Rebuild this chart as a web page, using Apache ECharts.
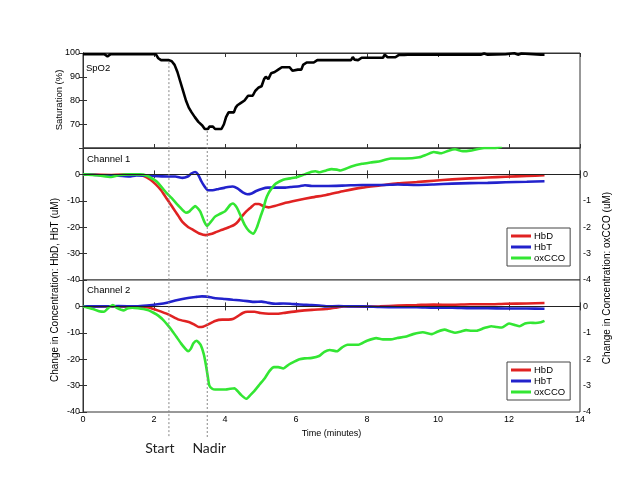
<!DOCTYPE html>
<html>
<head>
<meta charset="utf-8">
<script src="https://cdn.jsdelivr.net/npm/echarts@6/dist/echarts.min.js"></script>
<style>
html, body { margin: 0; background: #fff; }
#main { width: 640px; height: 480px; }
</style>
</head>
<body>
<div id="main"></div>
<script>
// time in minutes
var spo2 = [[0,99.5],[0.6,99.5],[0.69,98.6],[0.78,99.5],[2.05,99.5],[2.12,97.8],[2.2,97],[2.42,97],[2.5,96.5],[2.58,95],[2.66,92],[2.74,88],[2.8,85],[2.9,80],[2.98,77],[3.06,75],[3.15,73],[3.25,71],[3.36,69.5],[3.43,68],[3.52,68],[3.56,69],[3.66,69],[3.72,68],[3.9,68],[3.97,70],[4.03,73],[4.1,75],[4.25,75],[4.3,77],[4.35,78],[4.45,79],[4.55,80],[4.65,82],[4.78,82],[4.85,84],[4.95,85.5],[5.03,86],[5.1,89],[5.15,90],[5.22,89],[5.3,91.5],[5.4,92],[5.5,93],[5.6,94],[5.82,94],[5.9,92.5],[5.95,92],[6.05,93],[6.15,93],[6.2,95],[6.3,96],[6.5,96],[6.6,97],[7.55,97],[7.6,98.3],[7.65,97.2],[7.75,97],[7.85,98],[8.45,98],[8.5,99.3],[8.58,98.2],[8.8,98.2],[8.9,99.2],[9.05,99.2],[9.1,98.6],[9.15,99.3],[11.2,99.3],[11.3,99.8],[11.4,99.3],[11.9,99.5],[12.15,99.9],[12.25,99.3],[12.35,99.8],[12.9,99.3],[13,99.3]];

// channel 1 (uM)
var ch1HbD = [[0,0],[0.8,-0.2],[1.5,0],[1.7,-0.5],[1.9,-2],[2.05,-3.8],[2.2,-6],[2.3,-8],[2.4,-10],[2.5,-12],[2.6,-14],[2.7,-16],[2.8,-18],[2.95,-19.8],[3.1,-21],[3.3,-22.5],[3.46,-23],[3.6,-22.6],[3.72,-22],[3.87,-21.2],[4.02,-20.5],[4.15,-19.8],[4.27,-19],[4.37,-17.8],[4.47,-16],[4.6,-14],[4.73,-12.5],[4.85,-11.2],[4.95,-11.2],[5.08,-12],[5.23,-12.5],[5.4,-12],[5.64,-11],[6.04,-9.8],[6.45,-8.7],[6.85,-7.8],[7.35,-6.3],[7.86,-5],[8.36,-4.2],[8.87,-3.4],[9.4,-2.9],[9.88,-2.4],[10.4,-1.9],[10.9,-1.5],[11.4,-1.2],[11.9,-0.9],[12.5,-0.6],[13,-0.3]];
var ch1HbT = [[0,0],[0.5,-0.3],[1.0,-0.5],[1.3,-0.8],[1.5,-0.4],[2.0,-0.6],[2.4,-0.8],[2.6,-0.8],[2.8,-1.3],[2.95,-0.8],[3.05,0.3],[3.16,0.9],[3.24,0],[3.33,-2.5],[3.42,-4.5],[3.52,-6],[3.65,-6],[3.82,-5.5],[4.0,-5],[4.22,-4.6],[4.35,-5.3],[4.5,-6.8],[4.63,-7.5],[4.75,-7.2],[4.88,-6.3],[5.03,-5.5],[5.2,-5],[5.5,-5],[5.7,-5],[5.84,-4.8],[6.1,-4.5],[6.25,-4.1],[6.45,-4.4],[6.85,-4.4],[7.4,-4.2],[7.86,-4],[8.4,-4],[8.87,-3.8],[9.4,-4],[9.88,-3.8],[10.4,-3.5],[10.9,-3.3],[11.4,-3.2],[11.9,-3],[12.5,-2.8],[13,-2.6]];
var ch1Ox = [[0,0],[0.4,-0.03],[0.79,-0.1],[1.0,-0.03],[1.3,0],[1.6,0],[1.8,-0.05],[2.0,-0.2],[2.1,-0.3],[2.35,-0.7],[2.5,-0.9],[2.7,-1.2],[2.9,-1.45],[3.0,-1.4],[3.16,-1.2],[3.3,-1.4],[3.42,-1.8],[3.5,-1.95],[3.6,-1.8],[3.72,-1.6],[3.85,-1.5],[4.0,-1.4],[4.15,-1.15],[4.22,-1.1],[4.33,-1.25],[4.45,-1.6],[4.55,-1.9],[4.68,-2.15],[4.8,-2.25],[4.9,-2.0],[5.0,-1.6],[5.08,-1.3],[5.15,-0.95],[5.23,-0.7],[5.33,-0.5],[5.43,-0.35],[5.64,-0.2],[5.84,-0.15],[6.04,-0.1],[6.24,0],[6.44,0.1],[6.55,0.12],[6.65,0.08],[6.85,0.15],[7.0,0.2],[7.15,0.18],[7.25,0.15],[7.56,0.3],[7.86,0.4],[8.1,0.45],[8.36,0.5],[8.67,0.6],[9.07,0.6],[9.47,0.65],[9.68,0.75],[9.88,0.85],[10.08,0.8],[10.3,0.9],[10.48,0.95],[10.7,0.88],[10.9,0.9],[11.3,1.0],[11.6,1.0],[11.8,1.05]];

// channel 2 (uM)
var ch2HbD = [[0,0],[1.0,0],[1.7,-0.2],[1.85,-0.4],[2.1,-1.5],[2.4,-3],[2.7,-5],[3.0,-6],[3.15,-7],[3.26,-7.8],[3.38,-7.7],[3.5,-7],[3.72,-5.5],[3.92,-5],[4.1,-5],[4.22,-4.8],[4.35,-3.8],[4.5,-2.5],[4.63,-2],[4.83,-2],[5.0,-2.5],[5.23,-2.8],[5.45,-2.8],[5.64,-2.5],[6.04,-1.8],[6.45,-1.3],[6.85,-1],[7.1,-0.5],[7.35,0],[7.9,-0.1],[8.36,0],[8.87,0.3],[9.4,0.5],[9.88,0.7],[10.4,0.6],[10.9,0.8],[11.4,0.8],[11.9,1],[12.5,1.1],[13,1.3]];
var ch2HbT = [[0,0],[0.5,0],[1.0,0.1],[1.5,0],[1.8,0.3],[2.1,0.8],[2.4,1.5],[2.6,2.2],[2.8,2.8],[3.0,3.3],[3.2,3.6],[3.35,3.8],[3.5,3.7],[3.65,3.3],[3.82,3],[4.0,2.8],[4.22,2.5],[4.4,2.3],[4.63,2],[4.83,1.7],[5.03,1.8],[5.2,1.4],[5.43,1],[5.64,1.1],[5.84,1],[6.1,0.7],[6.44,0.5],[6.65,0.3],[6.85,0],[7.2,0.1],[7.5,0],[7.86,0],[8.36,-0.2],[8.87,-0.3],[9.4,-0.3],[9.88,-0.5],[10.4,-0.5],[10.9,-0.7],[11.4,-0.7],[11.9,-0.8],[12.5,-0.8],[13,-0.9]];
var ch2Ox = [[0,0],[0.14,-0.05],[0.28,-0.1],[0.45,-0.18],[0.59,-0.2],[0.72,-0.05],[0.84,0.05],[0.95,-0.05],[1.14,-0.15],[1.25,-0.08],[1.39,-0.05],[1.55,-0.07],[1.7,-0.1],[1.85,-0.15],[2.0,-0.25],[2.12,-0.35],[2.25,-0.5],[2.38,-0.7],[2.5,-0.9],[2.63,-1.15],[2.76,-1.4],[2.88,-1.6],[2.96,-1.7],[3.04,-1.6],[3.11,-1.4],[3.2,-1.3],[3.31,-1.45],[3.4,-1.8],[3.46,-2.2],[3.52,-2.7],[3.56,-3.0],[3.64,-3.12],[3.72,-3.15],[3.85,-3.15],[4.02,-3.15],[4.15,-3.12],[4.27,-3.1],[4.35,-3.2],[4.45,-3.35],[4.6,-3.5],[4.72,-3.35],[4.83,-3.2],[4.98,-2.95],[5.13,-2.7],[5.25,-2.45],[5.38,-2.3],[5.5,-2.3],[5.64,-2.35],[5.8,-2.2],[5.94,-2.1],[6.1,-2.0],[6.24,-1.97],[6.45,-1.95],[6.65,-1.88],[6.8,-1.72],[6.95,-1.65],[7.15,-1.7],[7.3,-1.55],[7.45,-1.45],[7.6,-1.45],[7.76,-1.45],[8.0,-1.3],[8.26,-1.2],[8.45,-1.25],[8.67,-1.25],[8.85,-1.2],[9.07,-1.15],[9.3,-1.05],[9.57,-0.98],[9.83,-1.05],[10.0,-0.95],[10.18,-0.88],[10.35,-0.95],[10.48,-1.0],[10.65,-0.95],[10.79,-0.9],[10.95,-0.92],[11.09,-0.92],[11.3,-0.82],[11.5,-0.75],[11.65,-0.78],[11.8,-0.8],[12.0,-0.65],[12.15,-0.7],[12.3,-0.75],[12.45,-0.65],[12.6,-0.62],[12.75,-0.63],[12.9,-0.6],[13.0,-0.55]];

var seriesNames = ["HbD", "HbT", "oxCCO"];
var seriesColors = ["#e02222", "#2222cc", "#33e633"];
var eventTimes = [2.42, 3.5];
var eventLabels = ["Start", "Nadir"];
var eventTops = [97, 68];

var FONT = "Liberation Sans";
var chart = echarts.init(document.getElementById("main"));

var grids = [
    { left: 83, right: 60, top: 53, height: 95 },
    { left: 83, right: 60, top: 148, height: 132 },
    { left: 83, right: 60, top: 280, height: 132 }
];
grids.forEach(function (g) {
    g.show = true;
    g.borderColor = "#333";
    g.borderWidth = 1;
    g.backgroundColor = "#fff";
});

function xAx(grid, pos, labels) {
    return {
        type: "value", gridIndex: grid, position: pos, min: 0, max: 14, interval: 2,
        axisLine: { lineStyle: { color: "#333" } },
        axisTick: { inside: true, length: 4, lineStyle: { color: "#333" } },
        axisLabel: { show: labels, color: "#000", fontFamily: FONT, fontSize: 9, margin: 3 },
        splitLine: { show: false },
        name: labels ? "Time (minutes)" : "",
        nameLocation: "middle", nameGap: 17,
        nameTextStyle: { color: "#000", fontFamily: FONT, fontSize: 9 }
    };
}

function yAx(grid, pos, min, max, step, labels, hideVal) {
    return {
        type: "value", gridIndex: grid, position: pos, min: min, max: max, interval: step,
        axisLine: { show: true, lineStyle: { color: "#333" } },
        axisTick: { inside: true, length: 4, lineStyle: { color: "#333" } },
        axisLabel: {
            show: labels, color: "#000", fontFamily: FONT, fontSize: 9, margin: 3,
            formatter: function (v) { return hideVal.indexOf(v) >= 0 ? "" : String(v); }
        },
        splitLine: { show: false }
    };
}

function line(name, data, xi, yi, color, zero) {
    var s = {
        name: name, type: "line", data: data, xAxisIndex: xi, yAxisIndex: yi,
        showSymbol: false, smooth: 0.2, color: color,
        lineStyle: { width: 2.6, color: color }
    };
    if (zero) {
        s.markLine = {
            silent: true, symbol: "none", label: { show: false },
            lineStyle: { color: "#222", width: 1, type: "solid" },
            data: [{ yAxis: 0 }]
        };
    }
    return s;
}

function legendAt(top) {
    return {
        data: seriesNames, orient: "vertical", left: 507, top: top,
        icon: "rect", itemWidth: 20, itemHeight: 3, itemGap: 1,
        padding: [3, 5, 3, 4], borderColor: "#444", borderWidth: 1,
        backgroundColor: "#fff",
        textStyle: { color: "#000", fontFamily: FONT, fontSize: 9.5, padding: [0, 0, 0, -2] }
    };
}

var option = {
    animation: false,
    backgroundColor: "#fff",
    grid: grids,
    xAxis: [xAx(0, "bottom", false), xAx(0, "top", false),
            xAx(1, "bottom", false), xAx(1, "top", false),
            xAx(2, "bottom", true), xAx(2, "top", false)],
    yAxis: [yAx(0, "left", 60, 100, 10, true, [60]), yAx(0, "right", 60, 100, 10, false, []),
            yAx(1, "left", -40, 10, 10, true, [10]), yAx(1, "right", -4, 1, 1, true, [1]),
            yAx(2, "left", -40, 10, 10, true, [10]), yAx(2, "right", -4, 1, 1, true, [1])],
    legend: [legendAt(228), legendAt(362)],
    title: [
        { text: "SpO2", left: 86, top: 63 },
        { text: "Channel 1", left: 87, top: 154 },
        { text: "Channel 2", left: 87, top: 285 }
    ].map(function (t) {
        t.padding = 0;
        t.textStyle = { color: "#000", fontFamily: FONT, fontSize: 9.5, fontWeight: "normal" };
        return t;
    }),
    series: [
        { name: "SpO2", type: "line", data: spo2, xAxisIndex: 0, yAxisIndex: 0,
          showSymbol: false, color: "#000", lineStyle: { width: 2.6, color: "#000" } },
        line(seriesNames[0], ch1HbD, 2, 2, seriesColors[0], true),
        line(seriesNames[1], ch1HbT, 2, 2, seriesColors[1], false),
        line(seriesNames[2], ch1Ox, 2, 3, seriesColors[2], false),
        line(seriesNames[0], ch2HbD, 4, 4, seriesColors[0], true),
        line(seriesNames[1], ch2HbT, 4, 4, seriesColors[1], false),
        line(seriesNames[2], ch2Ox, 4, 5, seriesColors[2], false)
    ]
};
chart.setOption(option);

// dotted event lines from the SpO2 curve down below the time axis
var graphics = [];
var axisBottom = chart.convertToPixel({ yAxisIndex: 4 }, -40);
for (var i = 0; i < eventTimes.length; i++) {
    var px = chart.convertToPixel({ xAxisIndex: 0 }, eventTimes[i]);
    var py = chart.convertToPixel({ yAxisIndex: 0 }, eventTops[i]);
    graphics.push({
        type: "line", silent: true, z: 50,
        shape: { x1: px, y1: py + 2, x2: px, y2: axisBottom + 25 },
        style: { stroke: "#888", lineWidth: 1, lineDash: [2, 2] }
    });
    graphics.push({
        type: "text", silent: true, z: 50,
        x: px + (i == 0 ? -9 : 2), y: axisBottom + 36,
        style: { text: eventLabels[i], font: '14px "Lato"', fill: "#222", textAlign: "center", textVerticalAlign: "middle" }
    });
}
// rotated axis titles
var titles = [
    { text: "Saturation (%)", x: 59, y: 100, size: 9.5 },
    { text: "Change in Concentration: HbD, HbT (uM)", x: 55, y: 290, size: 10 },
    { text: "Change in Concentration: oxCCO (uM)", x: 607, y: 278, size: 10 }
];
titles.forEach(function (t) {
    graphics.push({
        type: "text", silent: true, x: t.x, y: t.y, rotation: Math.PI / 2,
        style: { text: t.text, font: t.size + 'px "' + FONT + '"', fill: "#000", textAlign: "center", textVerticalAlign: "middle" }
    });
});
chart.setOption({ graphic: graphics });
</script>
</body>
</html>
